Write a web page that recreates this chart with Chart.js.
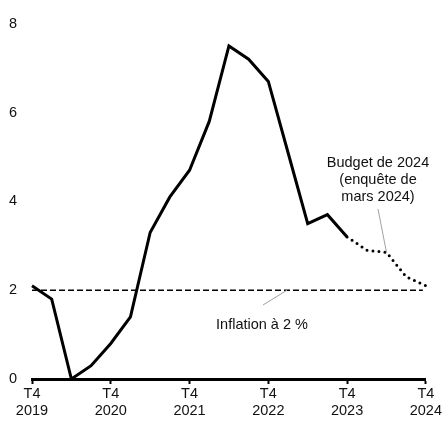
<!DOCTYPE html>
<html>
<head>
<meta charset="utf-8">
<script src="https://cdn.jsdelivr.net/npm/chart.js@4/dist/chart.umd.min.js"></script>
<style>
  html, body { margin: 0; padding: 0; background: #fff; }
  #wrap { width: 444px; height: 421px; }
</style>
</head>
<body>
<div id="wrap"><canvas id="graph"></canvas></div>
<script>
// ==================== DONNÉES ====================

// trimestres, de T4 2019 à T4 2024
const trimestres = [
    'T4 2019', 'T1 2020', 'T2 2020', 'T3 2020',
    'T4 2020', 'T1 2021', 'T2 2021', 'T3 2021',
    'T4 2021', 'T1 2022', 'T2 2022', 'T3 2022',
    'T4 2022', 'T1 2023', 'T2 2023', 'T3 2023',
    'T4 2023', 'T1 2024', 'T2 2024', 'T3 2024',
    'T4 2024'
];

// inflation observée (T4 2019 -> T4 2023)
const inflationObservee = [2.1, 1.8, 0, 0.3, 0.8, 1.4, 3.3, 4.1, 4.7, 5.8, 7.5, 7.2, 6.7, 5.1, 3.5, 3.7, 3.2];

// Budget de 2024 (T4 2023 -> T4 2024)
const projectionBudget = [3.2, 2.9, 2.85, 2.3, 2.1];
const debutProjection = 16;

const cibleInflation = 2;
const ticksY = [0, 2, 4, 6, 8];

// ==================== SÉRIES ====================

const serieObservee = trimestres.map((t, i) => i < inflationObservee.length ? inflationObservee[i] : null);
const serieProjection = trimestres.map((t, i) => {
    const j = i - debutProjection;
    return j >= 0 && j < projectionBudget.length ? projectionBudget[j] : null;
});

const POLICE = '"Liberation Sans", Arial, sans-serif';
const TAILLE = 14.5;

// ligne de cible + annotations
const annotations = {
    id: 'annotations',
    beforeDatasetsDraw(chart) {
        const { ctx, scales: { x, y } } = chart;
        const yc = y.getPixelForValue(cibleInflation);
        ctx.save();
        ctx.strokeStyle = '#000';
        ctx.lineWidth = 1.5;
        ctx.setLineDash([6, 3]);
        ctx.beginPath();
        ctx.moveTo(x.getPixelForValue(0), yc);
        ctx.lineTo(x.getPixelForValue(trimestres.length - 1) - 3, yc);
        ctx.stroke();
        ctx.restore();
    },
    afterDatasetsDraw(chart) {
        const { ctx, scales: { x, y } } = chart;
        ctx.save();
        ctx.font = TAILLE + 'px ' + POLICE;
        ctx.fillStyle = '#111';
        ctx.textAlign = 'center';
        ctx.textBaseline = 'middle';

        // Inflation à 2 %
        const yc = y.getPixelForValue(cibleInflation);
        ctx.fillText('Inflation à 2 %', 262, 325);
        ctx.strokeStyle = '#a0a0a0';
        ctx.lineWidth = 1;
        ctx.beginPath();
        ctx.moveTo(263, 305);
        ctx.lineTo(287, yc);
        ctx.stroke();

        // Budget de 2024
        ctx.fillText('Budget de 2024', 378, 163);
        ctx.fillText('(enquête de', 378, 180);
        ctx.fillText('mars 2024)', 378, 197);
        const xb = x.getPixelForValue(debutProjection + 2);
        const yb = y.getPixelForValue(projectionBudget[2]);
        ctx.beginPath();
        ctx.moveTo(378, 209);
        ctx.lineTo(xb, yb);
        ctx.stroke();
        ctx.restore();
    }
};

new Chart(document.getElementById('graph'), {
    type: 'line',
    data: {
        labels: trimestres,
        datasets: [
            {
                label: 'Inflation',
                data: serieObservee,
                borderColor: '#000',
                borderWidth: 3,
                pointRadius: 0,
                tension: 0,
                spanGaps: false
            },
            {
                label: 'Budget de 2024',
                data: serieProjection,
                borderColor: '#000',
                borderWidth: 3,
                borderDash: [0, 6],
                borderCapStyle: 'round',
                pointRadius: 0,
                tension: 0,
                spanGaps: false
            }
        ]
    },
    plugins: [annotations],
    options: {
        responsive: true,
        maintainAspectRatio: false,
        animation: false,
        layout: { padding: { top: 20, right: 18, left: 0, bottom: 0 } },
        plugins: {
            legend: { display: false },
            tooltip: { enabled: false }
        },
        scales: {
            x: {
                type: 'category',
                offset: false,
                afterFit: (s) => { s.height = 42; },
                border: { display: true, color: '#000', width: 3 },
                grid: {
                    drawOnChartArea: false,
                    drawTicks: true,
                    tickLength: 5,
                    tickWidth: 2,
                    tickColor: (c) => c.index % 4 === 0 ? '#000' : 'rgba(0,0,0,0)'
                },
                ticks: {
                    autoSkip: false,
                    maxRotation: 0,
                    padding: 2,
                    color: '#111',
                    font: { family: POLICE, size: TAILLE, lineHeight: 1.17 },
                    callback: (v, i) => i % 4 === 0 ? trimestres[i].split(' ') : ''
                }
            },
            y: {
                min: ticksY[0],
                max: ticksY[ticksY.length - 1],
                afterFit: (s) => { s.width = 32; },
                afterBuildTicks: (s) => { s.ticks = ticksY.map(v => ({ value: v })); },
                border: { display: false },
                grid: { display: false, drawTicks: false },
                ticks: {
                    padding: 15,
                    color: '#111',
                    font: { family: POLICE, size: TAILLE }
                }
            }
        }
    }
});
</script>
</body>
</html>
